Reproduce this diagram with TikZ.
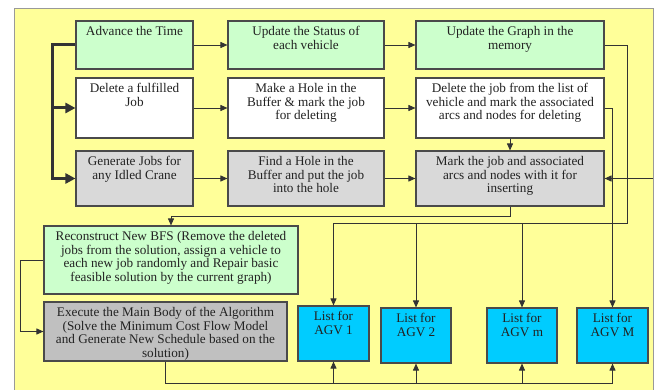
\documentclass[tikz,border=0pt]{standalone}
\usepackage{fontspec}
\setmainfont{Liberation Serif}
\usetikzlibrary{arrows.meta}
\definecolor{bgy}{HTML}{FFFF99}
\definecolor{gr}{HTML}{CCFFCC}
\definecolor{lg}{HTML}{D9D9D9}
\definecolor{dg}{HTML}{C0C0C0}
\definecolor{cy}{HTML}{00CCFF}
\definecolor{lc}{HTML}{333333}
\definecolor{bc}{HTML}{4A4A4A}
\definecolor{tc}{HTML}{222222}
\tikzset{
  bx/.style={draw=bc, line width=1.1pt, inner sep=0pt},
  txt/.style={font=\fontsize{13.2}{13.4}\selectfont, align=center, inner xsep=3pt, inner ysep=6pt, text=tc},
  ln/.style={draw=lc, line width=0.9pt},
  arr/.style={ln, -{Triangle[length=7pt,width=6pt]}},
  thk/.style={draw=lc, line width=3pt, -{Triangle[length=10pt,width=10pt]}},
}
\begin{document}
\begin{tikzpicture}[x=1pt,y=-1pt]
\useasboundingbox (0,0) rectangle (661,390);
\clip (0,0) rectangle (661,390);
\fill[white] (0,0) rectangle (661,390);
\filldraw[fill=bgy, draw=gray!80, line width=1pt] (14,9) rectangle (653,400);

% row 1
\node[bx, fill=gr, minimum width=117pt, minimum height=48pt,
  label={[txt,anchor=north]north:Advance the Time}] (A) at (134.5,45) {};
\node[bx, fill=gr, minimum width=156pt, minimum height=48pt,
  label={[txt,anchor=north]north:Update the Status of\\each vehicle}] (B) at (306,45) {};
\node[bx, fill=gr, minimum width=188pt, minimum height=48pt,
  label={[txt,anchor=north]north:Update the Graph in the\\memory}] (C) at (510,45) {};
% row 2
\node[bx, fill=white, minimum width=117pt, minimum height=60pt,
  label={[txt,anchor=north]north:Delete a fulfilled\\Job}] (D) at (134.5,108) {};
\node[bx, fill=white, minimum width=156pt, minimum height=60pt,
  label={[txt,anchor=north]north:Make a Hole in the\\Buffer \& mark the job\\for deleting}] (E) at (306,108) {};
\node[bx, fill=white, minimum width=188pt, minimum height=60pt,
  label={[txt,anchor=north]north:Delete the job from the list of\\vehicle and mark the associated\\arcs and nodes for deleting}] (F) at (510,108) {};
% row 3
\node[bx, fill=lg, minimum width=117pt, minimum height=55pt,
  label={[txt,anchor=north]north:Generate Jobs for\\any Idled Crane}] (G) at (134.5,178.5) {};
\node[bx, fill=lg, minimum width=156pt, minimum height=55pt,
  label={[txt,anchor=north]north:Find a Hole in the\\Buffer and put the job\\into the hole}] (H) at (306,178.5) {};
\node[bx, fill=lg, minimum width=188pt, minimum height=55pt,
  label={[txt,anchor=north]north:Mark the job and associated\\arcs and nodes with it for\\inserting}] (I) at (510,178.5) {};
% lower left
\node[bx, fill=gr, minimum width=254pt, minimum height=68pt,
  label={[txt,anchor=north]north:Reconstruct New BFS (Remove the deleted\\jobs from the solution, assign a vehicle to\\each new job randomly and Repair basic\\feasible solution by the current graph)}] (R) at (171,260) {};
\node[bx, fill=dg, minimum width=243pt, minimum height=59pt,
  label={[txt,anchor=north]north:Execute the Main Body of the Algorithm\\(Solve the Minimum Cost Flow Model\\and Generate New Schedule based on the\\solution)}] (X) at (165.5,331.5) {};
% AGV lists
\node[bx, fill=cy, minimum width=71pt, minimum height=55pt,
  label={[txt,anchor=north]north:List for\\AGV 1}] (AGV1) at (333.5,333.5) {};
\node[bx, fill=cy, minimum width=70pt, minimum height=55pt,
  label={[txt,anchor=north]north:List for\\AGV 2}] (AGV2) at (416,335.5) {};
\node[bx, fill=cy, minimum width=70pt, minimum height=55pt,
  label={[txt,anchor=north]north:List for\\AGV m}] (AGVm) at (522,335.5) {};
\node[bx, fill=cy, minimum width=71pt, minimum height=55pt,
  label={[txt,anchor=north]north:List for\\AGV M}] (AGVM) at (612.5,335.5) {};

% helper coordinates
\coordinate (tk) at (52,0);
\coordinate (cr) at (627,223);
\coordinate (rb) at (653,178.5);
\coordinate (bl) at (0,383);

% thick feed on the left
\draw[thk] (A.west) -| (tk |- G.west) -- (G.west);
\draw[thk] (tk |- D.west) -- (D.west);

% row arrows
\draw[arr] (A.east) -- (B.west);
\draw[arr] (B.east) -- (C.west);
\draw[arr] (D.east) -- (E.west);
\draw[arr] (E.east) -- (F.west);
\draw[arr] (G.east) -- (H.west);
\draw[arr] (H.east) -- (I.west);
\draw[arr] (F.south) -- (I.north);
\draw[arr] (rb) -- (I.east);

% graph to AGV lists
\draw[ln] (C.east) -| (cr) -- (AGV1.north |- cr);
\draw[arr] (AGV1.north |- cr) -- (AGV1.north);
\draw[arr] (AGV2.north |- cr) -- (AGV2.north);
\draw[arr] (AGVm.north |- cr) -- (AGVm.north);
\draw[arr] (F.east) -| (AGVM.north);

% I to Reconstruct, Reconstruct to Execute
\draw[arr] (I.south) -- ++(0,10) -| (R.north);
\draw[arr] (R.west) -- ++(-23,0) |- (X.west);

% Execute to AGV lists
\draw[ln] (X.south) -- (X.south |- bl) -- (AGVM.south |- bl);
\draw[arr] (AGV1.south |- bl) -- (AGV1.south);
\draw[arr] (AGV2.south |- bl) -- (AGV2.south);
\draw[arr] (AGVm.south |- bl) -- (AGVm.south);
\draw[arr] (AGVM.south |- bl) -- (AGVM.south);
\end{tikzpicture}
\end{document}
